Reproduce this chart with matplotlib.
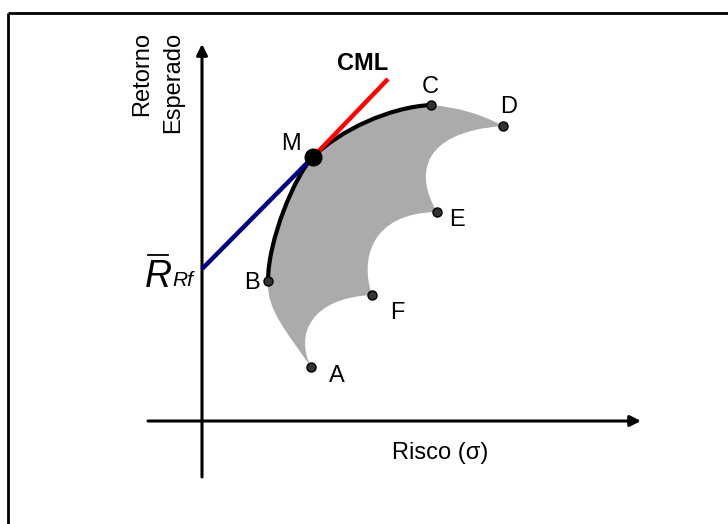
import matplotlib.pyplot as plt
from matplotlib.path import Path
from matplotlib.patches import PathPatch

plt.rcParams['font.family'] = ['Liberation Sans', 'DejaVu Sans']

# portfolio points (pixel-like coordinates, y grows downward)
names = ['A', 'B', 'C', 'D', 'E', 'F']
px = [311, 268, 431, 503, 437, 372]
py = [367, 281, 105, 126, 212, 295]
# label positions
lx = [337, 252, 430, 509, 457, 397]
ly = [376, 283, 87, 107, 220, 313]

# market portfolio and risk free rate
m_x, m_y = 313, 157
rf_x, rf_y = 202, 269
cml_end = (388, 79)

# efficient frontier B -> M -> C (bezier control points)
frontier = [(268, 281), (268, 240), (295, 175), (313, 157),
            (340, 130), (390, 107), (431, 105)]

# boundary of the feasible set: A -> B -> M -> C -> D -> E -> F -> A
region = [(311, 367),
          (285, 330), (268, 310), (268, 285),
          (268, 240), (295, 175), (313, 157),
          (340, 130), (390, 107), (431, 105),
          (470, 108), (503, 126),
          (420, 132), (415, 175), (437, 212),
          (370, 213), (360, 260), (372, 295),
          (310, 298), (295, 335), (311, 367)]
region_codes = [Path.MOVETO] + [Path.CURVE4] * 9 + [Path.CURVE3] * 2 + [Path.CURVE4] * 9

fig = plt.figure(figsize=(7.28, 5.24), dpi=100)
ax = fig.add_axes([0, 0, 1, 1])
ax.set_xlim(0, 728)
ax.set_ylim(524, 0)
ax.axis('off')

# frame (top and left edges only)
ax.plot([8, 728], [13, 13], color='black', lw=2, solid_capstyle='butt')
ax.plot([8, 8], [13, 524], color='black', lw=2, solid_capstyle='butt')

# shaded feasible set
ax.add_patch(PathPatch(Path(region, region_codes), facecolor='#ababab',
                       edgecolor='none', zorder=1))

# axes with arrows
ax.annotate('', xy=(202, 44), xytext=(202, 477),
            arrowprops=dict(arrowstyle='-|>', lw=2.2, color='black',
                            mutation_scale=16, shrinkA=0, shrinkB=0))
ax.annotate('', xy=(641, 421), xytext=(148, 421),
            arrowprops=dict(arrowstyle='-|>', lw=2.2, color='black',
                            mutation_scale=16, shrinkA=0, shrinkB=0))

# efficient frontier
fcodes = [Path.MOVETO] + [Path.CURVE4] * 6
ax.add_patch(PathPatch(Path(frontier, fcodes), facecolor='none',
                       edgecolor='black', lw=3, zorder=3))

# capital market line
ax.plot([rf_x, m_x], [rf_y, m_y], color='#000080', lw=3.2, zorder=4,
        solid_capstyle='butt')
ax.plot([m_x, cml_end[0]], [m_y, cml_end[1]], color='#ff0000', lw=3.2,
        zorder=4, solid_capstyle='butt')

# portfolio points
ax.plot(px, py, 'o', color='#333333', mec='black', ms=6.5, zorder=5)
ax.plot([m_x], [m_y], 'o', color='black', ms=12, zorder=6)

for n, x, y in zip(names, lx, ly):
    ax.text(x, y, n, fontsize=17, ha='center', va='center')
ax.text(291, 144, 'M', fontsize=17, ha='center', va='center')
ax.text(363, 63, 'CML', fontsize=17, fontweight='bold', ha='center', va='center')

# risk free label
ax.text(158, 277, 'R', fontsize=27, style='italic', ha='center', va='center')
ax.plot([148, 168], [255, 255], color='black', lw=1.3)
ax.text(183, 281, 'Rf', fontsize=15, style='italic', ha='center', va='center')

# axis titles
ax.text(142, 32, 'Retorno', fontsize=17, rotation=90, ha='center', va='top')
ax.text(173, 32, 'Esperado', fontsize=17, rotation=90, ha='center', va='top')
ax.text(440, 453, 'Risco (σ)', fontsize=17, ha='center', va='center')

fig.savefig('out.png', dpi=100)
